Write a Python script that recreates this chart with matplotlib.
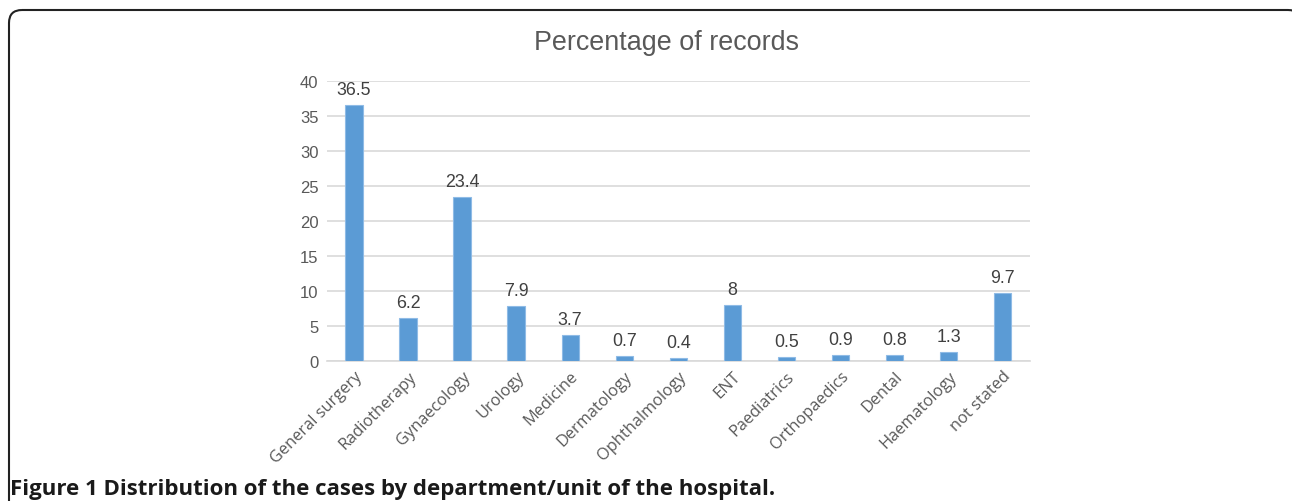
import matplotlib.pyplot as plt
from matplotlib.patches import FancyBboxPatch
import numpy as np

departments = ['General surgery', 'Radiotherapy', 'Gynaecology', 'Urology', 'Medicine',
               'Dermatology', 'Ophthalmology', 'ENT', 'Paediatrics', 'Orthopaedics',
               'Dental', 'Haematology', 'not stated']
percentages = [36.5, 6.2, 23.4, 7.9, 3.7, 0.7, 0.4, 8, 0.5, 0.9, 0.8, 1.3, 9.7]
y_ticks = [0, 5, 10, 15, 20, 25, 30, 35, 40]

fig = plt.figure(figsize=(12.92, 5.02), dpi=100)

# background axes in pixel units, holds the rounded frame
bg = fig.add_axes([0, 0, 1, 1], zorder=0)
bg.set_xlim(0, 1292)
bg.set_ylim(502, 0)
bg.axis('off')
bg.add_patch(FancyBboxPatch((9, 11), 1292, 520,
                            boxstyle='round,pad=0,rounding_size=13',
                            fill=False, edgecolor='#222222', linewidth=1.5,
                            clip_on=False))

ax = fig.add_axes([0.253, 0.279, 0.544, 0.558], zorder=1)
x = np.arange(len(departments))
ax.bar(x, percentages, width=0.32, color='#5b9bd5', edgecolor='#8fbbe6',
       linewidth=0.8, zorder=3)

for xi, v in zip(x, percentages):
    ax.text(xi, v + 1.0, f'{v:g}', ha='center', va='bottom', fontsize=12.8,
            color='#404040', family='Liberation Sans')

ax.set_xlim(-0.5, len(departments) - 0.5)
ax.set_ylim(0, 40)
ax.set_yticks(y_ticks)
ax.set_yticklabels([str(t) for t in y_ticks], fontsize=12, color='#595959',
                   family='Liberation Sans')
ax.set_xticks(x)
ax.set_xticklabels(departments, rotation=45, ha='right', rotation_mode='anchor',
                   fontsize=11.8, color='#595959', family='Open Sans')
ax.tick_params(axis='both', length=0, pad=6)
ax.tick_params(axis='x', pad=5)
ax.grid(axis='y', color='#d9d9d9', linewidth=1.2, zorder=0)
for s in ['top', 'right', 'left']:
    ax.spines[s].set_visible(False)
ax.spines['bottom'].set_color('#d9d9d9')
ax.spines['bottom'].set_linewidth(1.2)

fig.text(0.516, 0.915, 'Percentage of records', ha='center', va='center',
         fontsize=19.4, color='#595959', family='Liberation Sans')

fig.text(0.008, 0.025, 'Figure 1 Distribution of the cases by department/unit of the hospital.',
         ha='left', va='center', fontsize=16, fontweight='bold', color='#1a1a1a',
         family='Open Sans')

fig.savefig('out.png', dpi=100)
